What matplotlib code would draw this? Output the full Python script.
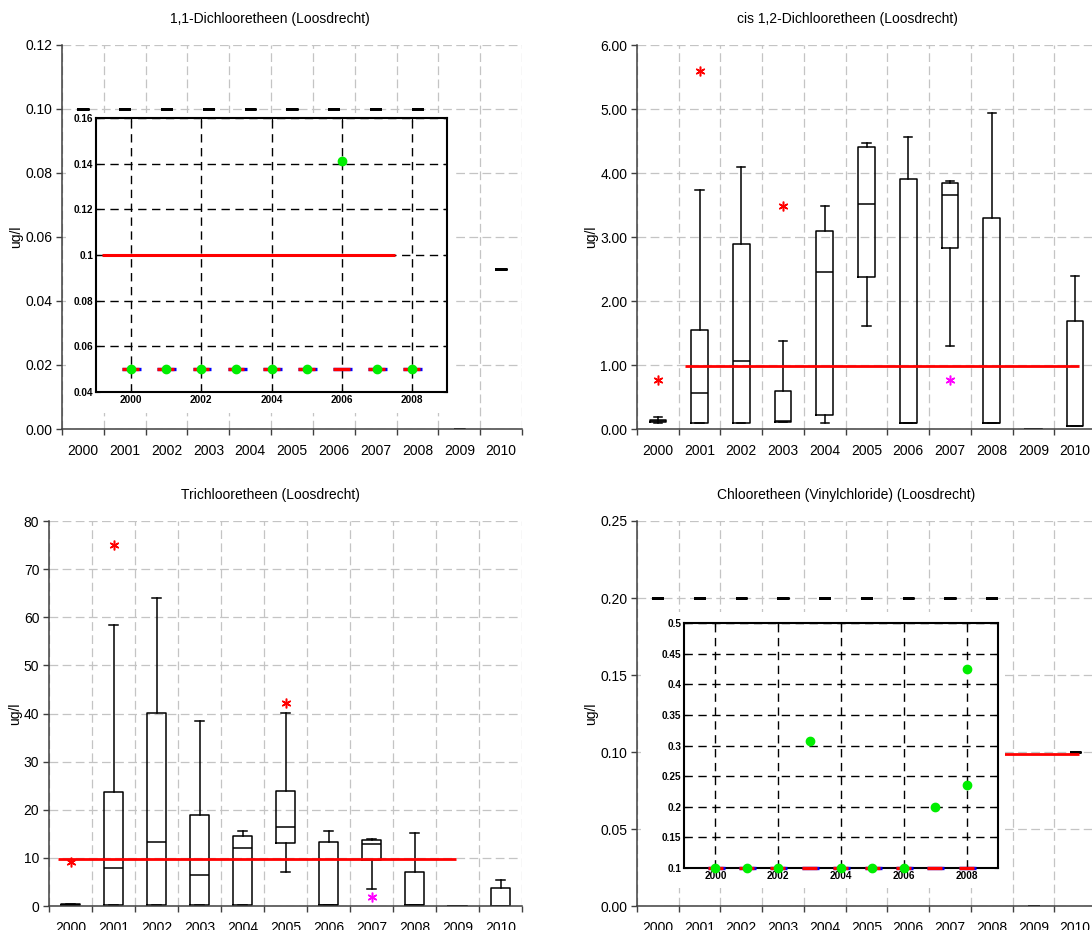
import numpy as np
import matplotlib
matplotlib.use('Agg')
import matplotlib.pyplot as plt
from matplotlib.patches import Rectangle
from matplotlib.ticker import FormatStrFormatter, MultipleLocator

plt.rcParams['font.family'] = ['Liberation Sans', 'DejaVu Sans']

# ---------------- data ----------------
years = ['2000', '2001', '2002', '2003', '2004', '2005', '2006', '2007', '2008', '2009', '2010']

# 1,1-Dichlooretheen: per year all values equal (box collapses to a dash)
dce11_level = [0.10, 0.10, 0.10, 0.10, 0.10, 0.10, 0.10, 0.10, 0.10, 0.0, 0.05]

# cis 1,2-Dichlooretheen box statistics
cis_whislo = [0.10, 0.10, 0.10, 0.11, 0.10, 1.61, 0.10, 1.30, 0.10, 0.0, 0.05]
cis_q1 = [0.11, 0.10, 0.10, 0.11, 0.22, 2.38, 0.10, 2.83, 0.10, 0.0, 0.05]
cis_med = [0.12, 0.56, 1.07, 0.12, 2.45, 3.51, 0.10, 3.66, 0.10, 0.0, 0.05]
cis_q3 = [0.14, 1.55, 2.89, 0.59, 3.10, 4.40, 3.90, 3.84, 3.30, 0.0, 1.68]
cis_whishi = [0.19, 3.74, 4.09, 1.37, 3.49, 4.47, 4.57, 3.87, 4.93, 0.0, 2.39]
cis_out_red = ([0, 1, 3], [0.76, 5.60, 3.49])
cis_out_mag = ([7], [0.76])
cis_norm = 0.99

# Trichlooretheen box statistics
tri_whislo = [0.2, 0.3, 0.3, 0.3, 0.3, 7.0, 0.3, 3.5, 0.3, 0.0, 0.0]
tri_q1 = [0.2, 0.3, 0.3, 0.3, 0.3, 13.0, 0.3, 9.6, 0.3, 0.0, 0.0]
tri_med = [0.3, 8.0, 13.4, 6.4, 12.1, 16.5, 0.3, 12.8, 0.3, 0.0, 0.0]
tri_q3 = [0.4, 23.6, 40.2, 19.0, 14.6, 23.8, 13.4, 13.7, 7.0, 0.0, 3.8]
tri_whishi = [0.5, 58.4, 64.0, 38.5, 15.6, 40.1, 15.6, 13.9, 15.1, 0.0, 5.4]
tri_out_red = ([0, 1, 5], [9.2, 75.0, 42.1])
tri_out_mag = ([7], [1.9])
tri_norm = 9.7

# Chlooretheen (Vinylchloride)
vc_level = [0.20, 0.20, 0.20, 0.20, 0.20, 0.20, 0.20, 0.20, 0.20, 0.0, 0.10]
vc_norm = 0.0985

# insets
inset_years = [2000, 2001, 2002, 2003, 2004, 2005, 2006, 2007, 2008]
in1_bar = [0.05] * 9
in1_norm = 0.1
in1_gx = [2000, 2001, 2002, 2003, 2004, 2005, 2006, 2007, 2008]
in1_gy = [0.05, 0.05, 0.05, 0.05, 0.05, 0.05, 0.141, 0.05, 0.05]
in4_bar = [0.1] * 9
in4_gx = [2000, 2001, 2002, 2003, 2004, 2005, 2006, 2007, 2008, 2008]
in4_gy = [0.1, 0.1, 0.1, 0.307, 0.1, 0.1, 0.1, 0.199, 0.425, 0.235]

W, H = 1092, 930
x = np.arange(len(years))


def rect(l, t, r, b):
    return [l / W, 1 - b / H, (r - l) / W, (b - t) / H]


def style_main(ax, ymax, ystep, fmt, lab_x):
    ax.set_xlim(-0.5, 10.5)
    ax.set_ylim(0, ymax)
    ax.yaxis.set_major_locator(MultipleLocator(ystep))
    ax.yaxis.set_major_formatter(FormatStrFormatter(fmt))
    ax.set_xticks(np.arange(-0.5, 11, 1))
    ax.set_xticklabels([])
    ax.set_xticks(x, minor=True)
    ax.set_xticklabels(years, minor=True)
    ax.tick_params(axis='x', which='minor', length=0, pad=11, labelsize=10)
    ax.tick_params(axis='x', which='major', length=4, width=1, color='#404040')
    ax.tick_params(axis='y', length=4, width=1, color='#404040', pad=3, labelsize=10)
    ax.grid(True, color='#c4c4c4', ls=(0, (7, 3.5)), lw=0.9)
    ax.set_axisbelow(True)
    for s in ['top', 'right']:
        ax.spines[s].set_visible(False)
    for s in ['left', 'bottom']:
        ax.spines[s].set_color('#404040')
        ax.spines[s].set_linewidth(1.1)
    ax.set_ylabel('ug/l', fontsize=10)
    ax.yaxis.set_label_coords(lab_x, 0.5)


def make_stats(lo, q1, med, q3, hi):
    return [dict(whislo=a, q1=b, med=c, q3=d, whishi=e) for a, b, c, d, e in zip(lo, q1, med, q3, hi)]


def draw_boxes(ax, stats, widths, lw):
    props = dict(color='black', lw=lw)
    ax.bxp(stats, positions=x, widths=widths, capwidths=0.2, showfliers=False,
           manage_ticks=False, boxprops=props, medianprops=props,
           whiskerprops=props, capprops=props)


def style_inset(ax, ylo, yhi, ystep):
    ax.set_facecolor('white')
    ax.set_xlim(1999, 2009)
    ax.set_ylim(ylo, yhi)
    ax.set_xticks([2000, 2002, 2004, 2006, 2008])
    ax.yaxis.set_major_locator(MultipleLocator(ystep))
    ax.yaxis.set_major_formatter(FormatStrFormatter('%g'))
    ax.grid(True, color='black', ls=(0, (6, 4)), lw=1)
    ax.tick_params(direction='in', length=3, pad=2, labelsize=7.2, top=True, right=True)
    for lbl in ax.get_xticklabels() + ax.get_yticklabels():
        lbl.set_fontweight('bold')
    for s in ax.spines.values():
        s.set_linewidth(1.5)


def draw_inset(ax, bar, gx, gy):
    yrs = np.array(inset_years)
    ax.hlines(bar, yrs - 0.25, yrs + 0.29, color='blue', lw=2.4, clip_on=False, zorder=3)
    ax.hlines(bar, yrs - 0.25, yrs + 0.23, color='red', lw=2.4, clip_on=False, zorder=4)
    ax.plot(gx, gy, 'o', color='#00ee00', ms=6, clip_on=False, zorder=5)


fig = plt.figure(figsize=(W / 100, H / 100), dpi=100)

ax1 = fig.add_axes(rect(62, 45, 522, 429))
ax2 = fig.add_axes(rect(637, 45, 1096, 429))
ax3 = fig.add_axes(rect(49, 521, 522, 906))
ax4 = fig.add_axes(rect(637, 521, 1096, 906))

# panel 1
style_main(ax1, 0.12, 0.02, '%.2f', -0.085)
draw_boxes(ax1, make_stats(dce11_level, dce11_level, dce11_level, dce11_level, dce11_level), 0.22, 2)

# panel 2
style_main(ax2, 6.0, 1.0, '%.2f', -0.085)
draw_boxes(ax2, make_stats(cis_whislo, cis_q1, cis_med, cis_q3, cis_whishi), 0.4, 1.1)
ax2.hlines(cis_norm, 0.64, 10.1, color='red', lw=2, zorder=4)
ax2.plot(*cis_out_red, ls='none', marker=(6, 2, 0), ms=7, mec='red', mew=1.1, zorder=5)
ax2.plot(*cis_out_mag, ls='none', marker=(6, 2, 0), ms=7, mec='magenta', mew=1.1, zorder=5)

# panel 3
style_main(ax3, 80, 10, '%d', -0.057)
draw_boxes(ax3, make_stats(tri_whislo, tri_q1, tri_med, tri_q3, tri_whishi), 0.42, 1.1)
ax3.hlines(tri_norm, -0.28, 8.96, color='red', lw=2, zorder=4)
ax3.plot(*tri_out_red, ls='none', marker=(6, 2, 0), ms=7, mec='red', mew=1.1, zorder=5)
ax3.plot(*tri_out_mag, ls='none', marker=(6, 2, 0), ms=7, mec='magenta', mew=1.1, zorder=5)

# panel 4
style_main(ax4, 0.25, 0.05, '%.2f', -0.085)
draw_boxes(ax4, make_stats(vc_level, vc_level, vc_level, vc_level, vc_level), 0.22, 2)
ax4.hlines(vc_norm, 0.64, 10.1, color='red', lw=2, zorder=4)

# white backgrounds of the pasted insets
for r in (rect(66, 113, 453, 413), rect(641, 612, 1005, 888)):
    fig.add_artist(Rectangle((r[0], r[1]), r[2], r[3], transform=fig.transFigure,
                             facecolor='white', edgecolor='none', zorder=1))

in1 = fig.add_axes(rect(96, 118, 447, 392))
in1.set_zorder(2)
style_inset(in1, 0.04, 0.16, 0.02)
in1.hlines(in1_norm, 1999.16, 2007.52, color='red', lw=2.2, zorder=4)
draw_inset(in1, in1_bar, in1_gx, in1_gy)

in4 = fig.add_axes(rect(684, 623, 998, 868))
in4.set_zorder(2)
style_inset(in4, 0.1, 0.5, 0.05)
draw_inset(in4, in4_bar, in4_gx, in4_gy)

# titles
fig.text(270 / W, 1 - 19 / H, '1,1-Dichlooretheen (Loosdrecht)', ha='center', va='center', fontsize=10)
fig.text(847 / W, 1 - 19 / H, 'cis 1,2-Dichlooretheen (Loosdrecht)', ha='center', va='center', fontsize=10)
fig.text(270 / W, 1 - 495 / H, 'Trichlooretheen (Loosdrecht)', ha='center', va='center', fontsize=10)
fig.text(846 / W, 1 - 495 / H, 'Chlooretheen (Vinylchloride) (Loosdrecht)', ha='center', va='center', fontsize=10)

fig.savefig('out.png', dpi=100)
